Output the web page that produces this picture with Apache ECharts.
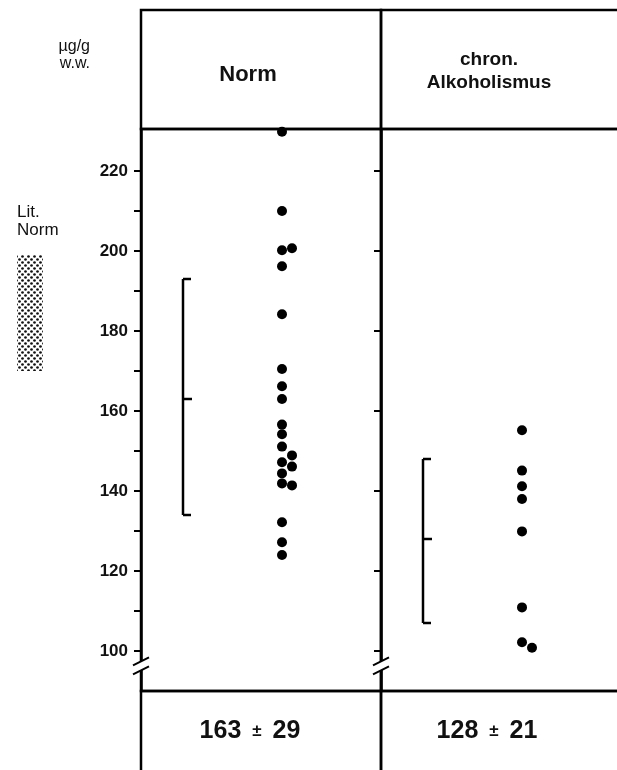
<!DOCTYPE html>
<html>
<head>
<meta charset="utf-8">
<script src="https://cdn.jsdelivr.net/npm/echarts@6/dist/echarts.min.js"></script>
<style>
html, body { margin: 0; padding: 0; background: #fff; }
#chart { width: 617px; height: 770px; }
</style>
</head>
<body>
<div id="chart"></div>
<script>
// Werte (µg/g w.w.)
var groups = ["Norm", "chron.\nAlkoholismus"];
var normValues = [229.8, 210, 200.2, 200.7, 196.2, 184.2, 170.5, 166.2, 163, 156.6, 154.2,
    151.1, 148.9, 147.2, 146.1, 144.4, 141.9, 141.4, 132.2, 127.2, 124];
var alkValues = [155.2, 145.1, 141.2, 138, 129.9, 110.9, 102.2, 100.8];
// Klammer: [unten, Mittelwert, oben]
var normRange = [134, 163, 193];
var alkRange = [107, 128, 148];
var summaries = ["163 ± 29", "128 ± 21"];
var litNorm = [170, 199];
var yTicks = [100, 120, 140, 160, 180, 200, 220];
var yMinor = [100, 110, 120, 130, 140, 150, 160, 170, 180, 190, 200, 210, 220];

var FONT = '"Liberation Sans", Arial, Helvetica, sans-serif';
var AXIS_X = 141, PANEL_W = 240, RIGHT_W = 260;
var HEAD_TOP = 10, PLOT_TOP = 129, PLOT_H = 562, FOOT_H = 100;
var Y_MIN = 90, Y_MAX = 230.5, BREAK_AT = 96.3;
var BRACKET_X = 42, DOT_X = 141, SIDE_STEP = 10, GAP = 2.25;
var INK = "#000";

var myChart = echarts.init(document.getElementById("chart"));

// Punkte in Spalten legen, wenn sie sich überdecken würden
function swarm(values) {
    var cols = [[], []];
    return values.map(function (v) {
        var c = 0;
        while (c < cols.length - 1 && cols[c].some(function (u) { return Math.abs(u - v) < GAP; })) c++;
        cols[c].push(v);
        return [DOT_X + c * SIDE_STEP, v];
    });
}

// Punktraster für "Lit. Norm"
var dots = document.createElement("canvas");
dots.width = 6; dots.height = 6;
var ctx = dots.getContext("2d");
ctx.fillStyle = "#111";
[[1.5, 1.5], [4.5, 4.5]].forEach(function (p) {
    ctx.beginPath(); ctx.arc(p[0], p[1], 1.35, 0, Math.PI * 2); ctx.fill();
});

function frameGrid(left, top, width, height) {
    return { left: left, top: top, width: width, height: height, show: true, outerBoundsMode: "none",
        borderColor: INK, borderWidth: 2.5, backgroundColor: "transparent" };
}

var grids = [
    frameGrid(AXIS_X, HEAD_TOP, PANEL_W, PLOT_TOP - HEAD_TOP),
    frameGrid(AXIS_X + PANEL_W, HEAD_TOP, RIGHT_W, PLOT_TOP - HEAD_TOP),
    frameGrid(AXIS_X, PLOT_TOP, PANEL_W, PLOT_H),
    frameGrid(AXIS_X + PANEL_W, PLOT_TOP, RIGHT_W, PLOT_H),
    frameGrid(AXIS_X, PLOT_TOP + PLOT_H, PANEL_W, FOOT_H),
    frameGrid(AXIS_X + PANEL_W, PLOT_TOP + PLOT_H, RIGHT_W, FOOT_H),
    { left: 17, top: PLOT_TOP, width: 26, height: PLOT_H, show: false, outerBoundsMode: "none" }
];

var xAxes = grids.map(function (g, i) {
    return { type: "value", gridIndex: i, min: 0, max: i === 6 ? 1 : g.width, show: false };
});
var yAxes = grids.map(function (g, i) {
    return { type: "value", gridIndex: i, min: Y_MIN, max: Y_MAX, show: false };
});
// linke Achse mit Beschriftung
yAxes[2] = {
    type: "value", gridIndex: 2, min: Y_MIN, max: Y_MAX, interval: 10,
    axisLine: { show: true, lineStyle: { color: INK, width: 2.5 } },
    axisTick: { show: true, length: 7, lineStyle: { color: INK, width: 2 }, customValues: yMinor },
    axisLabel: { show: true, color: "#111", fontFamily: FONT, fontWeight: "bold", fontSize: 17, margin: 13,
        customValues: yTicks,
        formatter: function (v) { return yTicks.indexOf(v) >= 0 ? String(v) : ""; } },
    splitLine: { show: false }
};
// mittlere Achse nur mit Strichen
yAxes[3] = {
    type: "value", gridIndex: 3, min: Y_MIN, max: Y_MAX, interval: 10,
    axisLine: { show: true, lineStyle: { color: INK, width: 2.5 } },
    axisTick: { show: true, length: 7, lineStyle: { color: INK, width: 2 }, customValues: yTicks },
    axisLabel: { show: false },
    splitLine: { show: false }
};

function bracketItem(params, api) {
    var lo = api.coord([api.value(0), api.value(1)]);
    var mid = api.coord([api.value(0), api.value(2)]);
    var hi = api.coord([api.value(0), api.value(3)]);
    var st = { stroke: INK, lineWidth: 2.5 };
    return { type: "group", children: [
        { type: "line", shape: { x1: hi[0], y1: hi[1], x2: lo[0], y2: lo[1] }, style: st },
        { type: "line", shape: { x1: hi[0], y1: hi[1], x2: hi[0] + 8, y2: hi[1] }, style: st },
        { type: "line", shape: { x1: mid[0], y1: mid[1], x2: mid[0] + 9, y2: mid[1] }, style: st },
        { type: "line", shape: { x1: lo[0], y1: lo[1], x2: lo[0] + 8, y2: lo[1] }, style: st }
    ] };
}

function breakItem(params, api) {
    var p = api.coord([0, api.value(1)]);
    var dx = 8, dy = 4, g = 9;
    function y(t, k) { return p[1] - g / 2 + k * g - dy * t / dx; }
    var st = { stroke: INK, lineWidth: 2 };
    return { type: "group", children: [
        { type: "polygon", shape: { points: [[p[0] - 3, y(-3, 0)], [p[0] + 3, y(3, 0)], [p[0] + 3, y(3, 1)], [p[0] - 3, y(-3, 1)]] },
            style: { fill: "#fff" } },
        { type: "line", shape: { x1: p[0] - dx, y1: y(-dx, 0), x2: p[0] + dx, y2: y(dx, 0) }, style: st },
        { type: "line", shape: { x1: p[0] - dx, y1: y(-dx, 1), x2: p[0] + dx, y2: y(dx, 1) }, style: st }
    ] };
}

function litItem(params, api) {
    var a = api.coord([0, api.value(1)]);
    var b = api.coord([1, api.value(0)]);
    return { type: "rect", shape: { x: a[0], y: a[1], width: b[0] - a[0], height: b[1] - a[1] },
        style: { fill: { image: dots, repeat: "repeat" } } };
}

var dotStyle = { color: "#000", opacity: 1 };
var series = [
    { type: "scatter", xAxisIndex: 2, yAxisIndex: 2, symbolSize: 10, itemStyle: dotStyle, data: swarm(normValues), z: 5 },
    { type: "scatter", xAxisIndex: 3, yAxisIndex: 3, symbolSize: 10, itemStyle: dotStyle, data: swarm(alkValues), z: 5 },
    { type: "custom", xAxisIndex: 2, yAxisIndex: 2, renderItem: bracketItem, z: 4,
        data: [[BRACKET_X, normRange[0], normRange[1], normRange[2]]] },
    { type: "custom", xAxisIndex: 3, yAxisIndex: 3, renderItem: bracketItem, z: 4,
        data: [[BRACKET_X, alkRange[0], alkRange[1], alkRange[2]]] },
    { type: "custom", xAxisIndex: 2, yAxisIndex: 2, renderItem: breakItem, clip: false, z: 6, data: [[0, BREAK_AT]] },
    { type: "custom", xAxisIndex: 3, yAxisIndex: 3, renderItem: breakItem, clip: false, z: 6, data: [[0, BREAK_AT]] },
    { type: "custom", xAxisIndex: 6, yAxisIndex: 6, renderItem: litItem, data: [[litNorm[0], litNorm[1]]] }
];

// "163 ± 29" -> Zahlen groß, ± klein
function summaryText(s) {
    var parts = s.split(" ± ");
    return "{n|" + parts[0] + "}{pm|±}{n|" + parts[1] + "}";
}
var summaryRich = {
    n: { fontFamily: FONT, fontSize: 25, fontWeight: "bold", fill: "#111" },
    pm: { fontFamily: FONT, fontSize: 17, fontWeight: "bold", fill: "#111", padding: [0, 11, 0, 11] }
};

var textStyle = { fill: "#111", fontFamily: FONT };
myChart.setOption({
    animation: false,
    grid: grids,
    xAxis: xAxes,
    yAxis: yAxes,
    series: series,
    graphic: [
        { type: "text", x: 90, y: 38, style: Object.assign({ text: "µg/g\nw.w.", fontSize: 16, lineHeight: 17, align: "right" }, textStyle) },
        { type: "text", x: 17, y: 203, style: Object.assign({ text: "Lit.\nNorm", fontSize: 17, lineHeight: 18 }, textStyle) },
        { type: "text", x: 248, y: 75, style: Object.assign({ text: groups[0], fontSize: 22, fontWeight: "bold", align: "center", verticalAlign: "middle" }, textStyle) },
        { type: "text", x: 489, y: 71, style: Object.assign({ text: groups[1], fontSize: 19, lineHeight: 23, fontWeight: "bold", align: "center", verticalAlign: "middle" }, textStyle) },
        { type: "text", x: 250, y: 731, style: { text: summaryText(summaries[0]), rich: summaryRich, align: "center", verticalAlign: "middle" } },
        { type: "text", x: 487, y: 731, style: { text: summaryText(summaries[1]), rich: summaryRich, align: "center", verticalAlign: "middle" } }
    ]
});
</script>
</body>
</html>
